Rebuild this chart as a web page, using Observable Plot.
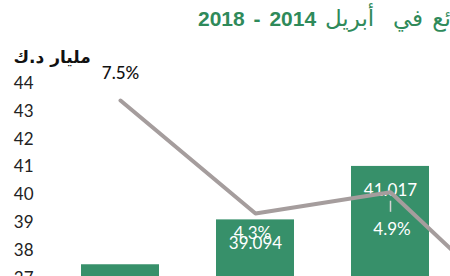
<!DOCTYPE html>
<html><head><meta charset="utf-8">
<script src="https://cdn.jsdelivr.net/npm/d3@7"></script>
<script src="https://cdn.jsdelivr.net/npm/@observablehq/plot@0.6"></script>
<style>
html,body{margin:0;padding:0;background:#fff;overflow:hidden;width:450px;height:276px;}
#title{position:relative;height:40px;width:450px;overflow:hidden;}
#title .t{position:absolute;left:198px;top:8px;white-space:pre;direction:rtl;color:#2f8a5a;font:bold 21px "Liberation Sans",Arial,sans-serif;line-height:21px;word-spacing:3px;}
#title .ar{font-family:"DejaVu Sans";font-weight:normal;font-size:23px;word-spacing:2px;}
#chart{width:450px;height:236px;overflow:hidden;}
</style></head><body>
<div id="title"><span class="t"><span class="ar">إجمالي الودائع في  أبريل</span> 2014 - 2018</span></div>
<div id="chart"></div>
<script>
// Data read from the (cropped) reference
const years = ["2014", "2015", "2016", "2017"];
const deposits = [37.48, 39.094, 41.017, 41.55];   // مليار د.ك
const growth = [7.5, 4.3, 4.9, 1.3];               // %
const yTicks = [37, 38, 39, 40, 41, 42, 43, 44];
const unitLabel = "مليار د.ك";

const rows = years.map((year, i) => ({year, value: deposits[i], growth: growth[i]}));

const green = "#37906a";
const lineColor = "#a59d9d";
const yDomain = [30, 44];
// secondary (percent) axis mapped into primary y units
const pct = d3.scaleLinear().domain([0, 10]).range([33.863, 46.563]);
const gy = d => pct(d.growth);
const fmtVal = d3.format(".3f");
const fmtPct = d => d.growth.toFixed(1) + "%";
const byYear = y => rows.filter(d => d.year === y);

const chart = Plot.plot({
  width: 450,
  height: 236,
  marginLeft: 36,
  marginRight: 0,
  marginTop: 0,
  marginBottom: 0,
  style: {fontFamily: "Lato, sans-serif", fontSize: "17px", background: "white", color: "#222"},
  x: {type: "band", domain: years, range: [21.94, 623.06], padding: 0.42, axis: null},
  y: {type: "linear", domain: yDomain, range: [432.2, 43], label: null},
  marks: [
    Plot.axisY(yTicks, {anchor: "left", tickSize: 0, tickPadding: 3, fontSize: 17, fill: "#222", label: null}),
    Plot.barY(rows, {x: "year", y1: yDomain[0], y2: "value", fill: green, clip: "frame"}),
    Plot.text(rows, {x: "year", y: "value", text: d => fmtVal(d.value), dy: 24, fill: "white", fontSize: 17, clip: "frame"}),
    Plot.line(rows, {x: "year", y: gy, stroke: lineColor, strokeWidth: 4, strokeLinecap: "round", strokeLinejoin: "round", clip: "frame"}),
    Plot.text(byYear("2014"), {x: "year", y: gy, text: fmtPct, dy: -27, fill: "#111", fontSize: 17, fontWeight: 500, clip: "frame"}),
    Plot.text(byYear("2015"), {x: "year", y: gy, text: fmtPct, dy: 20, dx: -3, fill: "white", fontSize: 17, clip: "frame"}),
    Plot.text(byYear("2016"), {x: "year", y: gy, text: fmtPct, dy: 37, dx: 1.5, fill: "white", fontSize: 17, clip: "frame"}),
    Plot.text(byYear("2017"), {x: "year", y: gy, text: fmtPct, dy: 20, fill: "white", fontSize: 17, clip: "frame"}),
    Plot.ruleX(byYear("2016"), {x: "year", y1: d => gy(d) - 0.32, y2: d => gy(d) - 0.72, stroke: "#d4d4d4", strokeWidth: 1.5}),
    Plot.text([unitLabel], {frameAnchor: "top-left", text: d => d, dx: -23, dy: 17, lineAnchor: "middle", textAnchor: "start", fontWeight: "bold", fontSize: 17, fontFamily: "DejaVu Sans", fill: "#111"})
  ]
});
document.getElementById("chart").appendChild(chart);
</script>
</body></html>
